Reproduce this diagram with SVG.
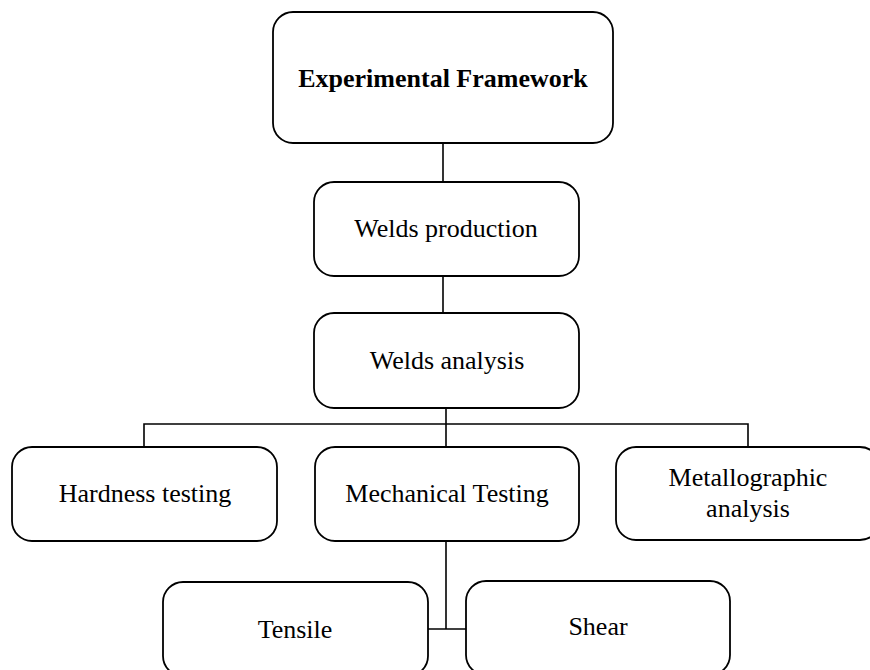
<svg xmlns="http://www.w3.org/2000/svg" width="870" height="670" viewBox="0 0 870 670">
<style>
.box{fill:#fff;stroke:#000;stroke-width:1.8}
.lbl{font-family:"Liberation Serif","Times New Roman",serif;font-size:26px;fill:#000;text-anchor:middle}
.b{font-weight:bold}
.con{stroke:#000;stroke-width:1.6;fill:none}
</style>
<rect width="870" height="670" fill="#fff"/>
<g id="connectors">
<line class="con" x1="443" y1="143" x2="443" y2="182"/>
<line class="con" x1="443" y1="276" x2="443" y2="313"/>
<line class="con" x1="446" y1="408" x2="446" y2="447"/>
<polyline class="con" points="144,447 144,424 748,424 748,447"/>
<line class="con" x1="446" y1="541" x2="446" y2="629"/>
<line class="con" x1="428" y1="629" x2="466" y2="629"/>
</g>
<g id="n-framework">
<rect class="box" x="273" y="12" width="340" height="131" rx="20"/>
<text class="lbl b" x="443" y="87">Experimental Framework</text>
</g>
<g id="n-production">
<rect class="box" x="314" y="182" width="265" height="94" rx="20"/>
<text class="lbl" x="446" y="237">Welds production</text>
</g>
<g id="n-analysis">
<rect class="box" x="314" y="313" width="265" height="95" rx="20"/>
<text class="lbl" x="447" y="369">Welds analysis</text>
</g>
<g id="n-hardness">
<rect class="box" x="12" y="447" width="265" height="94" rx="20"/>
<text class="lbl" x="145" y="502">Hardness testing</text>
</g>
<g id="n-mechanical">
<rect class="box" x="315" y="447" width="264" height="94" rx="20"/>
<text class="lbl" x="447" y="502">Mechanical Testing</text>
</g>
<g id="n-metallographic">
<rect class="box" x="616" y="447" width="264" height="93" rx="20"/>
<text class="lbl" x="748" y="486">Metallographic</text>
<text class="lbl" x="748" y="517">analysis</text>
</g>
<g id="n-tensile">
<rect class="box" x="163" y="582" width="265" height="94" rx="20"/>
<text class="lbl" x="295" y="638">Tensile</text>
</g>
<g id="n-shear">
<rect class="box" x="466" y="581" width="264" height="94" rx="20"/>
<text class="lbl" x="598" y="635">Shear</text>
</g>
</svg>
